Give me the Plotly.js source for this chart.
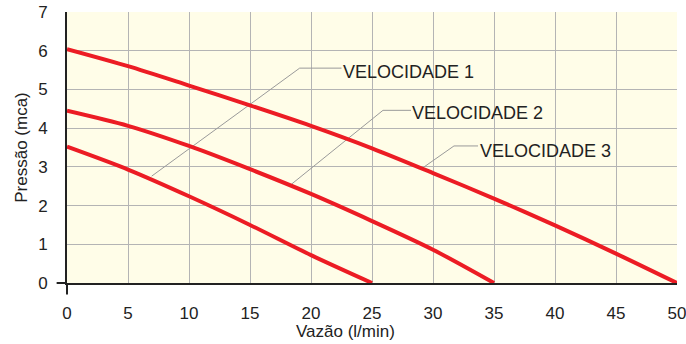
<!DOCTYPE html>
<html>
<head>
<meta charset="utf-8">
<script src="https://cdn.plot.ly/plotly-3.0.1.min.js"></script>
<style>html,body{margin:0;padding:0;background:#fff;}#chart{width:686px;height:344px;}</style>
</head>
<body>
<div id="chart"></div>
<script>
// Curve data: flow (l/min) vs pressure (mca)
const v1X = [0, 5, 10, 15, 20, 25];
const v1Y = [3.52, 2.93, 2.24, 1.50, 0.72, 0];
const v2X = [0, 5, 10, 15, 20, 25, 30, 35];
const v2Y = [4.45, 4.06, 3.54, 2.94, 2.30, 1.60, 0.86, 0];
const v3X = [0, 5, 10, 15, 20, 25, 30, 35, 40, 45, 50];
const v3Y = [6.04, 5.60, 5.10, 4.59, 4.06, 3.48, 2.84, 2.18, 1.49, 0.76, 0];

// Leader lines for labels
const lead1X = [6.94, 19.07, 22.5];
const lead1Y = [2.76, 5.55, 5.55];
const lead2X = [18.39, 25.9, 28.2];
const lead2Y = [2.55, 4.46, 4.46];
const lead3X = [29.05, 31.72, 33.69];
const lead3Y = [2.95, 3.54, 3.54];

const labels = ['VELOCIDADE 1', 'VELOCIDADE 2', 'VELOCIDADE 3'];
const labelX = [22.45, 28.15, 33.65];
const labelY = [5.45, 4.38, 3.40];

const xTicks = [0, 5, 10, 15, 20, 25, 30, 35, 40, 45, 50];
const yTicks = [0, 1, 2, 3, 4, 5, 6, 7];

const RED = '#ec1c24';
const LEAD = '#9a9a9a';
const FONT = 'Liberation Sans, Arial, sans-serif';

const curve = (x, y) => ({x, y, type: 'scatter', mode: 'lines', line: {color: RED, width: 4, shape: 'spline', smoothing: 0.8}, hoverinfo: 'skip'});
const lead = (x, y) => ({x, y, type: 'scatter', mode: 'lines', line: {color: LEAD, width: 1}, hoverinfo: 'skip'});

const data = [
  lead(lead1X, lead1Y), lead(lead2X, lead2Y), lead(lead3X, lead3Y),
  curve(v1X, v1Y), curve(v2X, v2Y), curve(v3X, v3Y)
];

const annotations = labels.map((t, i) => ({
  x: labelX[i], y: labelY[i], xref: 'x', yref: 'y', text: t, showarrow: false,
  xanchor: 'left', yanchor: 'middle', font: {family: FONT, size: 18, color: '#222'}
}));
annotations.push({
  x: 0.457, y: 0, xref: 'paper', yref: 'paper', yshift: -48, text: 'Vazão (l/min)', showarrow: false,
  xanchor: 'center', yanchor: 'middle', font: {family: FONT, size: 17, color: '#222'}
});

const layout = {
  width: 686, height: 344,
  margin: {l: 67, r: 9, t: 12, b: 61},
  paper_bgcolor: '#ffffff',
  plot_bgcolor: '#fffde8',
  showlegend: false,
  font: {family: FONT, size: 17, color: '#222'},
  xaxis: {
    range: [0, 50], tickvals: xTicks, ticktext: xTicks.map(String),
    showgrid: true, gridcolor: '#b4b4b4', gridwidth: 1,
    zeroline: false, showline: true, linecolor: '#222', linewidth: 2,
    ticks: 'outside', ticklen: 14, tickcolor: 'rgba(0,0,0,0)',
    ticklabeloverflow: 'allow',
    tickfont: {family: FONT, size: 17, color: '#222'}, fixedrange: true
  },
  yaxis: {
    range: [0, 7], tickvals: yTicks, ticktext: yTicks.map(String),
    showgrid: true, gridcolor: '#b4b4b4', gridwidth: 1,
    zeroline: false, showline: true, linecolor: '#222', linewidth: 2,
    ticks: 'outside', ticklen: 14, tickcolor: 'rgba(0,0,0,0)',
    ticklabeloverflow: 'allow',
    tickfont: {family: FONT, size: 17, color: '#222'},
    title: {text: 'Pressão (mca)', font: {family: FONT, size: 17, color: '#222'}, standoff: 6},
    fixedrange: true
  },
  shapes: [
    {type: 'line', xref: 'paper', yref: 'paper', x0: 0, x1: 0, y0: -0.042, y1: 0, line: {color: '#222', width: 2}},
    {type: 'line', xref: 'paper', yref: 'paper', x0: -0.017, x1: 0, y0: 0, y1: 0, line: {color: '#222', width: 2}}
  ],
  annotations
};

Plotly.newPlot('chart', data, layout, {displayModeBar: false, staticPlot: true});
</script>
</body>
</html>
